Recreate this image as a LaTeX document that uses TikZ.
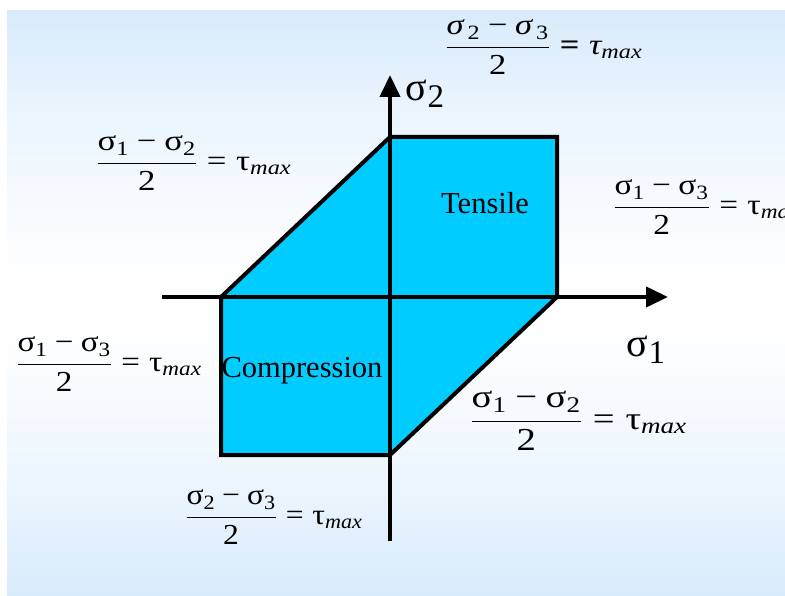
\RequirePackage{fix-cm}
\documentclass[tikz,border=0pt]{standalone}
\usepackage{amsmath}
\usepackage{graphicx}
\usepackage{fontspec}
\setmainfont{Liberation Serif}
\usetikzlibrary{arrows.meta}
\definecolor{fillc}{RGB}{0,204,255}
\definecolor{bgblue}{RGB}{216,235,252}
\newcommand\sgm[1]{\textrm{σ}_{\textrm{#1}}}
\newcommand\mmin{\mathbin{\textrm{−}}}
\newcommand\meq{\mathrel{\textrm{=}}}
\newcommand\tmax{\textrm{τ}_{\textit{max}}}
\newcommand\eqlab[3]{\scalebox{#1}[1]{$\dfrac{\sgm{#2}\mmin\sgm{#3}}{\textrm{2}}\meq\tmax$}}
\tikzset{
  lab/.style={inner sep=0pt, anchor=west, font=\fontsize{29}{33}\selectfont},
  txt/.style={inner sep=0pt, font=\fontsize{30.5}{34}\selectfont},
  axlab/.style={inner sep=0pt, font=\fontsize{40}{44}\selectfont},
  axis/.style={line width=4pt, -{Triangle[length=22pt,width=20pt]}},
  region/.style={fill=fillc, draw=black, line width=4pt, line join=miter}
}
\begin{document}
\begin{tikzpicture}[x=1pt,y=-1pt]
\useasboundingbox (0,0) rectangle (785,596);
\fill[white] (0,0) rectangle (785,596);
\foreach \i in {0,...,99}{
  \pgfmathsetmacro\p{100*(abs(2*(\i+0.5)/100-1))^1.4}
  \fill[bgblue!\p!white] (7,{10+\i*5.86}) rectangle (785,{10+(\i+1)*5.86+0.6});
}
% region
\coordinate (p1) at (221,297);
\coordinate (p2) at (390,137);
\coordinate (p3) at (557,137);
\coordinate (p4) at (557,297);
\coordinate (p5) at (390,455);
\coordinate (p6) at (221,455);
\draw[region] (p1) -- (p2) -- (p3) -- (p4) -- (p5) -- (p6) -- cycle;
% axes
\coordinate (xs) at (162,297);
\coordinate (xe) at (668,297);
\coordinate (ys) at (390,541);
\coordinate (ye) at (390,75);
\draw[axis] (xs) -- (xe);
\draw[axis] (ys) -- (ye);
% axis labels
\node[axlab] (s2) at (425,94) {σ\raisebox{-7pt}{\fontsize{33}{36}\selectfont 2}};
\node[axlab] (s1) at (646,350) {σ\raisebox{-7pt}{\fontsize{33}{36}\selectfont 1}};
% region labels
\node[txt] (ten) at (485,203) {Tensile};
\node[txt] (comp) at (302,371) {Compression};
% equations
\node[lab] (e1) at (96,163) {\eqlab{1.2}{1}{2}};
\node[lab] (e2) at (613,207) {\eqlab{1.15}{1}{3}};
\node[lab] (e3) at (16,364) {\eqlab{1.14}{1}{3}};
\node[lab, font=\fontsize{32}{36}\selectfont] (e4) at (470,421) {\eqlab{1.21}{1}{2}};
\node[lab] (e5) at (185,517) {\eqlab{1.09}{2}{3}};
\node[lab] (e6) at (445,47) {\scalebox{1.19}[1]{$\dfrac{\textit{σ}_{\,\textrm{2}}\mmin\textit{σ}_{\,\textrm{3}}}{\textrm{2}}\mathrel{\textbf{=}}\textit{τ}_{\textit{max}}$}};
\end{tikzpicture}
\end{document}
